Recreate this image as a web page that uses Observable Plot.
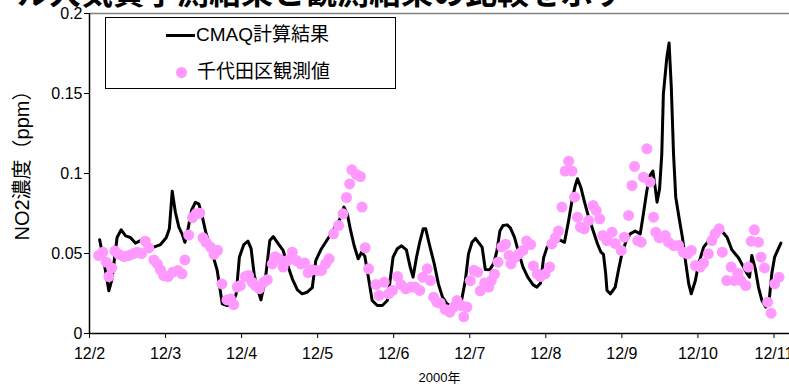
<!DOCTYPE html>
<html>
<head>
<meta charset="utf-8">
<script src="https://cdn.jsdelivr.net/npm/d3@7"></script>
<script src="https://cdn.jsdelivr.net/npm/@observablehq/plot@0.6"></script>
<style>
  html, body { margin: 0; padding: 0; background: #fff; overflow: hidden; }
  #fig { position: relative; width: 789px; height: 389px; overflow: hidden; font-family: "Liberation Sans", Arial, "Noto Sans CJK JP", sans-serif; }
  #fig svg { position: absolute; left: 0; top: 0; }
  #title { position: absolute; right: 164px; top: -26px; white-space: nowrap; font: bold 32px/32px "Noto Sans CJK JP", sans-serif; color: #000; }
  #legend { position: absolute; left: 105px; top: 17px; width: 289px; height: 70px; border: 1px solid #000; background: #fff; font-size: 19px; }
  #legend .swatch-line { position: absolute; left: 60px; top: 16px; width: 29px; height: 3px; background: #000; }
  #legend .swatch-dot { position: absolute; left: 70px; top: 49px; width: 11px; height: 11px; border-radius: 50%; background: #ff99ff; }
  #legend .lbl { position: absolute; line-height: 20px; white-space: nowrap; font-family: "Liberation Sans", Arial, "Noto Sans CJK JP", sans-serif; }
</style>
</head>
<body>
<div id="fig">
  <div id="title">ル大気質予測結果と観測結果の比較を示す</div>
</div>
<script>
// Hours are counted from 2000-12-02 00:00.
const startDay = Date.UTC(2000, 11, 2);

// Day tick labels
const dayLabels = ["12/2", "12/3", "12/4", "12/5", "12/6", "12/7", "12/8", "12/9", "12/10", "12/11"];

// Y tick labels
const yTicks = [0, 0.05, 0.1, 0.15, 0.2];
const yLabels = ["0", "0.05", "0.1", "0.15", "0.2"];

// Series names
const modelName = "CMAQ計算結果";
const obsName = "千代田区観測値";
const yTitle = "NO2濃度（ppm）";
const xTitle = "2000年";

// CMAQ simulated NO2 (ppm)
const modelHours = [
  3.2, 4.5, 6.1, 7.1, 8.7, 10.0, 11.4, 12.9, 14.5, 16.1, 18.2, 20.3, 22.4, 24.2, 25.2, 26.1, 27.1, 28.2, 29.2, 30.1,
  31.1, 32.2, 33.4, 34.5, 35.5, 36.8, 38.5, 40.3, 41.9, 43.4, 45.0, 46.3, 47.3, 48.7, 50.0, 51.0, 52.0, 53.2, 54.1, 55.5,
  56.9, 58.0, 59.6, 61.1, 62.4, 64.0, 65.6, 67.1, 68.7, 70.3, 71.4, 73.0, 74.5, 76.1, 77.5, 78.9, 80.3, 81.4, 82.4, 83.5,
  84.8, 85.9, 86.9, 88.0, 89.2, 90.8, 92.4, 94.0, 95.0, 95.8, 97.1, 98.5, 100.0, 101.2, 102.1, 103.2, 104.2, 105.3, 106.1, 107.2,
  108.8, 110.1, 111.4, 112.8, 114.9, 117.0, 118.6, 119.6, 120.7, 121.8, 123.1, 123.9, 124.9, 126.3, 127.6, 128.6, 129.5, 130.5, 131.8, 132.8,
  134.1, 135.4, 136.8, 138.3, 140.0, 141.2, 142.3, 143.3, 144.4, 146.0, 147.0, 148.4, 149.9, 151.2, 152.3, 153.3, 154.0, 155.1, 156.1, 157.5,
  159.1, 160.3, 161.4, 162.2, 162.9, 163.3, 164.4, 165.9, 166.9, 168.0, 169.3, 170.6, 172.2, 173.8, 174.8, 175.9, 176.9, 177.8, 178.5, 179.1,
  179.9, 180.6, 181.1, 182.2, 182.9, 183.6, 184.3, 185.0, 186.1, 187.1, 188.2, 189.1, 189.9, 191.2, 192.2, 193.8, 195.3, 197.3, 199.4, 201.2,
  202.7, 204.8, 206.4, 207.4, 208.3, 209.0, 210.1, 211.1, 212.2, 213.4, 214.5, 215.3, 216.2, 217.6, 218.2
];
const modelValues = [
  0.0586, 0.0456, 0.0267, 0.034, 0.060, 0.0648, 0.061, 0.060, 0.0565, 0.058, 0.0544, 0.054, 0.0556, 0.0598, 0.0654, 0.0889, 0.0758, 0.0665, 0.0623, 0.057,
  0.0654, 0.0769, 0.082, 0.081, 0.074, 0.0623, 0.0519, 0.0394, 0.0186, 0.0175, 0.018, 0.0248, 0.0477, 0.0556, 0.0577, 0.053, 0.0363, 0.0269, 0.021, 0.034,
  0.0581, 0.0606, 0.056, 0.0519, 0.0435, 0.0342, 0.0273, 0.0248, 0.0258, 0.0286, 0.0456, 0.0523, 0.057, 0.0619, 0.0665, 0.071, 0.079, 0.0744, 0.0644, 0.055,
  0.0467, 0.0509, 0.0482, 0.0352, 0.0206, 0.0175, 0.0175, 0.0206, 0.0352, 0.0477, 0.0529, 0.0548, 0.0523, 0.0415, 0.0352, 0.0477, 0.057, 0.0654, 0.0654, 0.0561,
  0.0435, 0.031, 0.0227, 0.0186, 0.0165, 0.0165, 0.0331, 0.0498, 0.057, 0.0594, 0.056, 0.054, 0.040, 0.0398, 0.044, 0.052, 0.064, 0.0675, 0.0679, 0.066,
  0.0602, 0.0508, 0.0415, 0.0352, 0.0304, 0.029, 0.0314, 0.0473, 0.054, 0.055, 0.057, 0.0585, 0.057, 0.0706, 0.0835, 0.0925, 0.0967, 0.091, 0.0831, 0.0727,
  0.0633, 0.056, 0.0508, 0.0494, 0.0373, 0.0269, 0.0248, 0.029, 0.0394, 0.0498, 0.0577, 0.0623, 0.064, 0.0623, 0.0748, 0.0894, 0.0988, 0.1015, 0.0915, 0.0821,
  0.0904, 0.1123, 0.1498, 0.1727, 0.1815, 0.154, 0.1123, 0.0852, 0.0717, 0.0602, 0.0435, 0.031, 0.0248, 0.0331, 0.0435, 0.054, 0.0577, 0.0612, 0.0644, 0.0602,
  0.0523, 0.0473, 0.0415, 0.0377, 0.0352, 0.0488, 0.0404, 0.029, 0.0206, 0.0165, 0.021, 0.0373, 0.0477, 0.054, 0.0565
];

// Chiyoda-ku observed NO2 (ppm)
const obsHours = [
  2.9, 4.2, 5.3, 6.1, 7.0, 8.0, 9.3, 10.9, 12.4, 13.7, 15.0, 16.4, 17.6, 18.7, 20.3, 21.4, 22.4, 23.4, 24.8, 26.3,
  27.9, 29.2, 30.1, 31.3, 32.5, 33.6, 34.8, 35.8, 36.8, 38.2, 39.3, 40.4, 41.8, 43.4, 44.5, 45.5, 46.6, 47.6, 49.2, 50.2,
  51.3, 52.4, 53.6, 55.0, 56.1, 57.7, 58.6, 59.8, 61.1, 62.4, 64.0, 65.3, 66.7, 67.9, 69.0, 70.3, 71.9, 73.2, 74.5, 75.6,
  77.0, 78.6, 80.0, 81.1, 82.1, 82.8, 84.2, 85.5, 86.0, 87.0, 88.1, 90.4, 91.4, 93.0, 94.4, 95.6, 97.2, 98.3, 99.8, 101.4,
  102.7, 104.2, 105.2, 106.6, 107.6, 108.6, 109.6, 110.7, 112.3, 113.7, 114.9, 116.0, 117.2, 118.1, 119.1, 120.2, 121.3, 122.5, 123.3, 124.7,
  126.0, 126.8, 127.8, 128.9, 130.1, 131.3, 132.4, 133.0, 134.2, 135.5, 136.8, 137.9, 139.2, 140.1, 141.3, 142.3, 143.8, 145.2, 145.9, 147.0,
  148.0, 149.1, 150.1, 151.2, 152.3, 153.1, 154.0, 154.9, 156.1, 157.5, 158.9, 159.9, 161.0, 162.0, 163.3, 164.9, 165.9, 167.8, 168.8, 170.1,
  171.2, 172.0, 173.0, 174.1, 174.8, 175.9, 176.9, 178.0, 178.7, 179.8, 181.7, 182.7, 184.3, 185.9, 187.4, 188.8, 189.9, 191.2, 192.7, 193.8,
  195.3, 196.4, 197.4, 198.7, 199.7, 201.1, 202.5, 203.5, 204.6, 205.6, 207.1, 207.9, 208.8, 209.8, 211.1, 211.9, 213.0, 214.0, 215.1, 216.2,
  217.6
];
const obsValues = [
  0.0488, 0.0508, 0.0446, 0.0356, 0.041, 0.0515, 0.0494, 0.0481, 0.0487, 0.0498, 0.0508, 0.050, 0.0577, 0.0535, 0.046, 0.0435, 0.0398, 0.0362, 0.0356, 0.0383,
  0.0394, 0.0373, 0.046, 0.0615, 0.0725, 0.0748, 0.0752, 0.0598, 0.057, 0.054, 0.0495, 0.052, 0.031, 0.021, 0.0215, 0.018, 0.029, 0.030, 0.0356, 0.0362,
  0.0321, 0.030, 0.028, 0.0321, 0.0336, 0.0435, 0.048, 0.0467, 0.0415, 0.0456, 0.0508, 0.0456, 0.0435, 0.044, 0.038, 0.0398, 0.0394, 0.0394, 0.0435, 0.0467,
  0.0623, 0.0675, 0.0748, 0.085, 0.0935, 0.1023, 0.0994, 0.0981, 0.079, 0.0536, 0.0404, 0.0306, 0.0238, 0.0321, 0.0248, 0.0269, 0.0356, 0.0306, 0.0279, 0.029,
  0.029, 0.0269, 0.0352, 0.0404, 0.0331, 0.0227, 0.0196, 0.019, 0.015, 0.0133, 0.0165, 0.0206, 0.0175, 0.0104, 0.0165, 0.033, 0.0395, 0.0383, 0.0267, 0.0315,
  0.029, 0.0331, 0.0371, 0.0446, 0.0542, 0.0558, 0.0487, 0.0435, 0.0475, 0.0498, 0.0519, 0.0578, 0.0556, 0.0422, 0.0373, 0.0356, 0.0373, 0.0415, 0.056, 0.0598,
  0.064, 0.079, 0.1015, 0.1077, 0.1015, 0.0852, 0.0727, 0.0665, 0.0654, 0.0706, 0.080, 0.0769, 0.0717, 0.0612, 0.0581, 0.0633, 0.0563, 0.0519, 0.0602, 0.0738,
  0.0925, 0.1044, 0.0581, 0.0571, 0.0977, 0.1154, 0.0946, 0.0727, 0.0633, 0.0598, 0.0612, 0.0571, 0.055, 0.055, 0.0508, 0.0498, 0.0519, 0.0425, 0.0415, 0.044,
  0.0498, 0.0581, 0.0623, 0.0654, 0.0508, 0.0331, 0.0415, 0.0331, 0.0377, 0.0331, 0.030, 0.0415, 0.0577, 0.0648, 0.0571, 0.0477, 0.041, 0.0196, 0.0127, 0.031,
  0.0352
];

const toDate = h => new Date(startDay + h * 3600e3);
const model = modelHours.map((h, i) => ({t: toDate(h), v: modelValues[i]}));
const obs = obsHours.map((h, i) => ({t: toDate(h), v: obsValues[i]}));
const dayTicks = dayLabels.map((_, i) => toDate(24 * i));
const x0 = toDate(0), x1 = toDate(220.9);

const font = "'Liberation Sans', Arial, 'Noto Sans CJK JP', sans-serif";

const chart = Plot.plot({
  width: 789,
  height: 389,
  marginLeft: 89,
  marginRight: 0,
  marginTop: 13,
  marginBottom: 56,
  style: {fontFamily: font, fontSize: "16px", background: "transparent", color: "#000", overflow: "visible"},
  x: {type: "utc", domain: [x0, x1]},
  y: {domain: [0, 0.2]},
  marks: [
    Plot.ruleY([0.2], {stroke: "#808080", strokeWidth: 1.5}),
    Plot.line(model, {x: "t", y: "v", stroke: "#000", strokeWidth: 3, strokeLinejoin: "round"}),
    Plot.dot(obs, {x: "t", y: "v", r: 5.5, fill: "#ff99ff", stroke: "none"}),
    Plot.axisY({ticks: yTicks, tickFormat: d => yLabels[yTicks.indexOf(d)], tickSize: 5, tickPadding: 2, label: null, fontSize: 16}),
    Plot.axisX({ticks: dayTicks, tickFormat: d => dayLabels[Math.round((d - startDay) / 864e5)], tickSize: 5, tickPadding: 9, label: null, fontSize: 16}),
    Plot.ruleX([x0], {stroke: "#000", strokeWidth: 1.5}),
    Plot.ruleY([0], {stroke: "#000", strokeWidth: 1.5}),
    Plot.text([yTitle], {frameAnchor: "left", textAnchor: "middle", dx: -67, dy: -13, rotate: -90, text: d => d, fontSize: 20, fill: "#000"}),
    Plot.text([xTitle], {frameAnchor: "bottom", dy: 48, text: d => d, fontSize: 13, fill: "#000"})
  ]
});

const fig = document.getElementById("fig");
fig.insertBefore(chart, fig.firstChild);

// Legend box drawn over the plot area
const legend = document.createElement("div");
legend.id = "legend";
legend.innerHTML =
  `<div class="swatch-line"></div><div class="lbl" style="left:90px;top:7px">${modelName}</div>` +
  `<div class="swatch-dot"></div><div class="lbl" style="left:91px;top:44px">${obsName}</div>`;
fig.appendChild(legend);
</script>
</body>
</html>
